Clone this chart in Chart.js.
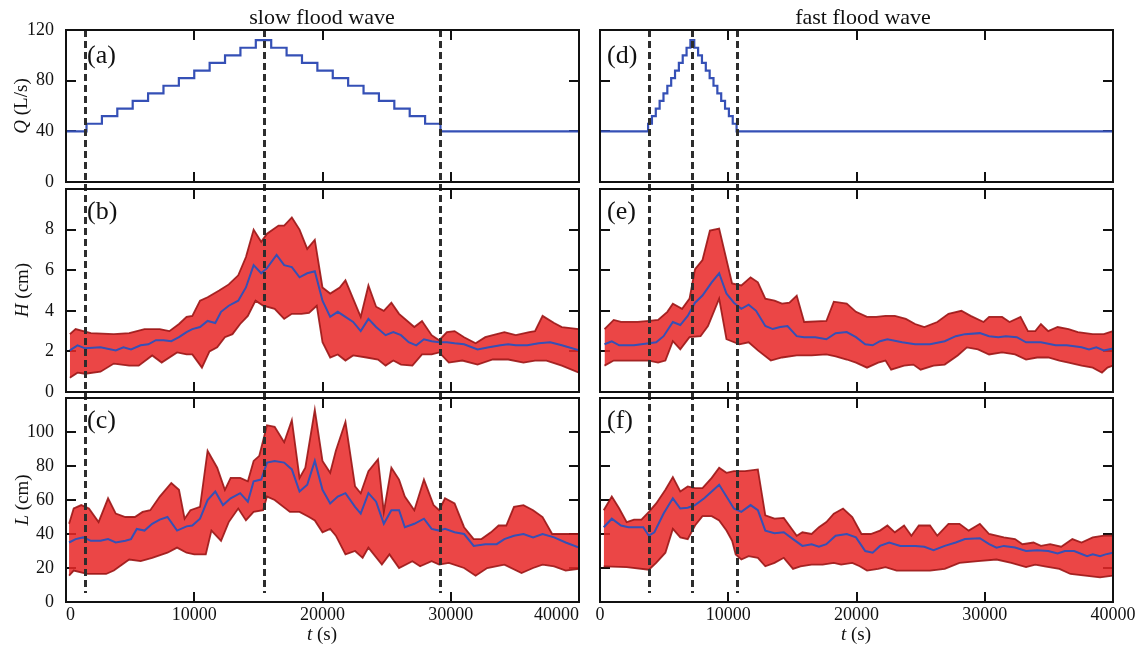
<!DOCTYPE html>
<html>
<head>
<meta charset="utf-8">
<title>Flood wave response</title>
<script src="https://cdn.jsdelivr.net/npm/chart.js@4.4.1/dist/chart.umd.min.js"></script>
<style>
  html, body { margin: 0; padding: 0; background: #fff; }
  #figure { position: relative; width: 1140px; height: 646px; overflow: hidden; background: #fff;
            font-family: "Liberation Serif", "Times New Roman", serif; color: #111; }
  #figure canvas { position: absolute; left: 0; top: 0; }
  .lbl { position: absolute; white-space: nowrap; line-height: 1; transform: translate(-50%, -50%); }
  .col-title { font-size: 22px; }
  .tag { font-size: 26px; transform: translate(0, -50%); }
  .ax { font-size: 19px; }
  .ax.rot { transform: translate(-50%, -50%) rotate(-90deg); }
</style>
</head>
<body>
<div id="figure">
  <canvas id="panelA" width="1140" height="646"></canvas>
  <canvas id="panelB" width="1140" height="646"></canvas>
  <canvas id="panelC" width="1140" height="646"></canvas>
  <canvas id="panelD" width="1140" height="646"></canvas>
  <canvas id="panelE" width="1140" height="646"></canvas>
  <canvas id="panelF" width="1140" height="646"></canvas>

  <div class="lbl col-title" style="left:322px;top:17px">slow flood wave</div>
  <div class="lbl col-title" style="left:863px;top:17px">fast flood wave</div>

  <div class="lbl ax rot" style="left:20px;top:106px"><i>Q</i> (L/s)</div>
  <div class="lbl ax rot" style="left:21px;top:290px"><i>H</i> (cm)</div>
  <div class="lbl ax rot" style="left:21px;top:500px"><i>L</i> (cm)</div>
  <div class="lbl ax" style="left:322px;top:633px"><i>t</i> (s)</div>
  <div class="lbl ax" style="left:856px;top:633px"><i>t</i> (s)</div>

  <div class="lbl tag" style="left:87px;top:55px">(a)</div>
  <div class="lbl tag" style="left:87px;top:211px">(b)</div>
  <div class="lbl tag" style="left:87px;top:420px">(c)</div>
  <div class="lbl tag" style="left:607px;top:55px">(d)</div>
  <div class="lbl tag" style="left:607px;top:211px">(e)</div>
  <div class="lbl tag" style="left:607px;top:420px">(f)</div>
</div>

<script>
// ---- axes ----
const T_MAX = 40000;
const X_TICKS = [0, 10000, 20000, 30000, 40000];
const Q_TICKS = [0, 40, 80, 120];
const H_TICKS = [0, 2, 4, 6, 8];
const L_TICKS = [0, 20, 40, 60, 80, 100];

// times (s) of the start, peak and end of each imposed flood wave
const SLOW_MARKS = [1500, 15400, 29200];
const FAST_MARKS = [3800, 7150, 10700];

// ---- imposed discharge Q (L/s), stepwise hydrographs ----
const qSlowTime = [0, 1600, 2800, 4000, 5200, 6400, 7600, 8800, 10000, 11200, 12400, 13600, 14800,
                   16000, 17200, 18400, 19600, 20800, 22000, 23200, 24400, 25600, 26800, 28000, 29200, 40000];
const qSlow     = [40, 46, 52, 58, 64, 70, 76, 82, 88, 94, 100, 106, 112,
                   106, 100, 94, 88, 82, 76, 70, 64, 58, 52, 46, 40, 40];
const qFastTime = [0, 3750, 4050, 4350, 4650, 4950, 5250, 5550, 5850, 6150, 6450, 6750, 7050,
                   7350, 7650, 7950, 8250, 8550, 8850, 9150, 9450, 9750, 10050, 10350, 10650, 40000];
const qFast     = [40, 46, 52, 58, 64, 70, 76, 82, 88, 94, 100, 106, 112,
                   106, 100, 94, 88, 82, 76, 70, 64, 58, 52, 46, 40, 40];

// ---- bedform height H (cm): [t, value] ----
const hSlowMean = [[300,2.05],[900,2.3],[1490,2.15],[2690,2.2],[3880,2.05],[4480,2.2],[5070,2.1],[5820,2.3],[6420,2.35],[7010,2.55],[7610,2.55],[8210,2.5],[8810,2.7],[9400,2.95],[9850,3.1],[10450,3.2],[11040,3.5],[11640,3.4],[12090,3.95],[12690,4.25],[13430,4.5],[14030,5.15],[14630,6.25],[15220,5.85],[15670,6.1],[16420,6.75],[17010,6.25],[17610,6.15],[18210,5.65],[18810,5.85],[19400,5.95],[20000,4.5],[20600,3.7],[21190,3.95],[21790,3.7],[22390,3.45],[22980,3.0],[23580,3.6],[24180,3.2],[24920,2.8],[25520,2.95],[26120,2.8],[26720,2.45],[27310,2.3],[27910,2.6],[28510,2.5],[29100,2.45],[29700,2.45],[30300,2.4],[31040,2.35],[32090,2.1],[32980,2.2],[33880,2.3],[34480,2.35],[35070,2.3],[35970,2.3],[36860,2.4],[37760,2.45],[38660,2.3],[40000,2.05]];
const hSlowUpper = [[300,2.85],[750,3.1],[1940,2.9],[3730,2.85],[4930,2.9],[6120,3.1],[7310,3.1],[8060,3.0],[8810,3.35],[9400,3.7],[9850,3.75],[10450,4.5],[11040,4.67],[11940,5.0],[12690,5.3],[13430,5.75],[14030,6.65],[14630,8.0],[15220,7.4],[15670,7.8],[16570,8.2],[17010,8.2],[17610,8.6],[18210,8.0],[18810,7.05],[19400,7.5],[20000,5.15],[20600,4.85],[21340,5.15],[21790,5.5],[22980,3.7],[23580,5.25],[24180,4.2],[24780,4.0],[25370,4.4],[25970,3.85],[27160,3.2],[27760,3.5],[28510,2.8],[29100,2.55],[29700,2.95],[30300,3.0],[31040,2.7],[31940,2.4],[32690,2.7],[33280,2.8],[34180,2.95],[35070,2.8],[36120,2.95],[36570,3.0],[37160,3.75],[38060,3.4],[38660,3.2],[40000,3.1]];
const hSlowLower = [[300,0.7],[900,0.95],[1490,0.9],[2690,1.0],[3730,1.4],[4930,1.3],[5670,1.3],[6720,1.8],[7460,1.45],[8660,1.95],[9400,1.85],[9850,1.85],[10600,1.2],[11190,2.0],[11790,2.2],[12390,2.7],[12980,2.85],[13580,3.35],[14180,3.75],[14780,4.5],[15370,4.25],[16270,4.1],[17010,3.6],[17610,3.85],[18360,3.85],[18950,3.9],[19550,4.25],[20000,2.45],[20600,1.7],[21190,1.85],[21790,1.55],[22390,1.8],[23430,1.7],[24330,1.6],[24920,1.3],[25520,1.55],[26120,1.35],[27010,1.3],[27760,1.85],[28510,1.85],[29100,1.95],[29850,1.45],[30900,1.55],[32090,1.35],[33280,1.6],[34480,1.6],[35670,1.45],[36570,1.55],[37460,1.55],[38660,1.3],[40000,0.95]];

const hFastMean = [[350,2.35],[920,2.5],[1500,2.3],[2650,2.3],[3810,2.4],[4380,2.45],[4960,2.75],[5680,3.45],[6260,3.3],[6840,3.75],[7410,4.4],[7990,4.75],[8710,5.4],[9290,5.85],[9860,4.85],[10440,4.4],[11020,4.1],[11590,4.3],[12170,4.0],[12890,3.25],[13470,3.1],[14050,3.2],[14620,3.25],[15340,2.75],[15920,2.7],[16790,2.7],[17650,2.6],[18370,2.9],[19240,2.95],[19960,2.7],[20680,2.35],[21260,2.3],[21830,2.5],[22410,2.6],[23560,2.45],[24570,2.35],[25730,2.35],[26880,2.5],[27740,2.75],[28460,2.85],[29620,2.9],[30340,2.75],[31060,2.7],[31640,2.75],[32500,2.7],[33220,2.45],[34380,2.45],[35530,2.3],[36400,2.3],[37550,2.2],[38130,2.1],[38700,2.2],[39280,2.05],[40000,2.15]];
const hFastUpper = [[350,3.1],[1070,3.55],[1640,3.45],[2940,3.45],[3810,3.5],[4530,3.55],[5250,3.95],[5680,4.35],[6400,4.1],[6980,4.6],[7410,6.05],[7990,6.5],[8570,7.95],[9290,8.05],[9720,6.9],[10300,5.35],[11020,5.25],[11740,5.65],[12310,5.4],[12890,4.6],[13610,4.5],[14190,4.35],[14770,4.4],[15340,4.75],[15920,3.45],[17650,3.5],[18230,4.45],[19240,4.35],[19960,3.95],[20820,3.7],[21540,3.7],[22260,3.75],[22990,3.75],[23850,3.6],[24570,3.35],[25290,3.2],[26300,3.45],[27170,3.85],[28180,4.0],[28900,3.75],[29910,3.45],[30340,3.7],[31350,3.7],[31930,3.45],[32790,3.7],[33370,3.0],[33940,3.0],[34380,3.35],[34950,3.0],[35680,3.2],[36540,3.1],[37260,2.95],[38420,2.85],[39280,2.85],[40000,3.0]];
const hFastLower = [[350,1.3],[1070,1.55],[2650,1.55],[3810,1.55],[4530,1.45],[5100,1.55],[5680,2.5],[6260,2.1],[6980,2.7],[7840,2.75],[8420,3.25],[9290,4.6],[9860,2.6],[10870,2.35],[11590,2.45],[12310,2.05],[13320,1.55],[14190,1.7],[15340,1.8],[16500,1.8],[17650,1.85],[18370,1.75],[19240,1.6],[19960,1.45],[20820,1.2],[21690,1.45],[22260,1.55],[22700,1.1],[23710,1.3],[24430,1.35],[25000,1.1],[26010,1.3],[26880,1.35],[27890,1.8],[28610,2.2],[29470,2.1],[30340,1.85],[31350,1.95],[32360,1.85],[33220,1.6],[34090,1.7],[34950,1.7],[35820,1.55],[36540,1.45],[37550,1.3],[38420,1.2],[39140,0.95],[39570,1.2],[40000,1.3]];

// ---- bedform length L (cm): [t, value] ----
const lSlowMean = [[240,35],[750,37],[1340,38],[1940,36],[2690,36],[3280,37],[3880,35],[4630,36],[5070,37],[5520,43],[6120,42],[6720,46],[7310,48.5],[7910,50],[8660,42],[9400,44.5],[9850,45],[10450,49],[11040,60],[11640,65],[12240,57],[12840,61],[13580,64],[14180,59],[14630,71],[15220,72],[15670,82],[16270,83],[17010,82],[17610,78],[18210,65],[18810,69],[19400,83],[20000,66],[20600,58],[21190,62],[21790,64],[22540,56],[22980,52],[23580,64],[24180,59],[24780,46],[25370,54],[25970,54],[26420,44],[27160,46],[27910,49],[28510,43],[29100,42],[29550,43],[30300,41],[31040,40],[31790,33],[32690,34],[33580,34],[34180,37],[34930,39],[35670,40],[36420,38],[37160,40],[38060,38],[38960,35],[40000,32]];
const lSlowUpper = [[240,46],[600,55],[1190,57],[1790,55],[2540,47],[3280,61],[3880,52],[4630,50],[5370,50],[5970,53],[6570,54],[7310,62],[8210,70],[8810,66],[9250,49],[9700,54],[10450,56],[11040,89],[11790,79],[12390,66],[12840,73],[13580,73],[14180,71],[14630,83],[15070,86],[15670,104],[16270,103],[17010,94],[17610,107],[18210,73],[18660,79],[19400,113],[20000,83],[20600,76],[21040,89],[21790,106],[22540,68],[22980,64],[23580,77],[24330,84],[24780,53],[25370,79],[25970,72],[26420,62],[27160,54],[27910,72],[28660,57],[29100,54],[29550,61],[30300,58],[31040,44],[31790,37],[32390,37],[33130,41],[33730,45],[34330,45],[34930,56],[35670,57],[36420,54],[37160,50],[37910,40],[38810,40],[40000,40]];
const lSlowLower = [[240,15.5],[600,18.5],[1640,16.5],[3130,16.5],[3730,18.5],[4930,25],[5820,24],[6720,26],[7910,29],[8660,32],[9400,29],[10000,28],[10900,28],[11340,42],[12090,36],[12690,47],[13430,55],[14030,48],[14630,53],[15370,54],[15670,62],[16270,60],[17460,53],[18210,53],[18950,50],[19400,48],[20000,41],[20600,43],[21040,39],[21790,28],[22540,30],[23130,26],[23580,32],[24630,22],[25220,28],[25970,20],[27010,24],[27610,21],[28510,24],[29100,22],[29850,23],[31040,20],[31940,15.5],[32840,20],[34180,22],[35520,17],[36420,20],[37160,22],[38060,21],[38960,18.5],[40000,19.5]];

const lFastMean = [[290,44],[920,49],[1640,45],[2220,44],[3370,44],[3810,39],[4240,41],[4960,52],[5680,61],[6260,55],[6840,55.5],[7410,57],[8130,61],[8710,65],[9290,69],[9860,62],[10440,55],[11020,53],[11740,57],[12310,54],[12890,42],[13610,40.5],[14330,41],[15050,37],[15780,33],[16500,34],[17070,32.5],[17650,34],[18370,39],[19240,40],[19960,38],[20680,30],[21260,29],[21830,33],[22550,35],[23420,33],[24570,33],[25290,32.5],[26010,30.5],[26880,33],[27740,35],[28460,37],[29620,37.5],[30340,34],[30920,32],[31490,33],[32360,32],[33220,30],[34090,30.5],[34950,30],[35680,28.5],[36250,30],[36970,30],[37980,27],[38420,28],[38990,27],[39420,28],[40000,29]];
const lFastUpper = [[290,54],[920,62],[1500,55],[2080,47],[2650,48.5],[3230,48.5],[3810,53],[4380,58],[5100,66],[5680,73.5],[6260,65],[6840,68],[7410,67],[7990,67],[8710,73],[9290,79],[9860,76],[10440,77],[11310,77],[12310,78],[12890,51],[13610,49],[14330,49.5],[15340,39],[15780,41],[16500,40],[17070,44],[17650,47],[18230,52],[18950,55],[19670,50],[20390,40],[21110,40],[21830,42],[22410,45],[22990,41],[23710,45],[24280,39],[24860,45],[25730,45],[26300,39],[27170,46],[28030,46],[28750,42],[29620,46],[30340,40],[31490,38],[32360,37],[32940,34],[33800,35],[34380,33],[35100,34],[35960,32.5],[36830,37],[37550,35],[38420,38],[39280,39],[40000,39]];
const lFastLower = [[290,21],[2080,20.5],[3810,19],[4380,23],[5100,29],[5680,43],[6260,38],[6840,37],[7410,45],[7990,50.5],[8710,50.5],[9290,48],[9860,42],[10300,36],[10580,28],[11020,25],[11590,27],[12310,26],[12890,21],[13610,23],[14330,26],[15050,19.5],[15630,21],[16500,22],[17360,22],[18230,23],[18800,22],[19670,23],[20250,21],[20820,18.5],[21690,19.5],[22260,20.5],[23130,18.5],[24280,18.5],[25730,18.5],[26880,19.5],[28030,23],[29470,24],[30920,25],[32070,23],[33220,20.5],[33940,22],[34670,21],[35820,19.5],[36680,16.5],[37840,15.5],[38990,14.5],[40000,15.5]];

// ---- styling ----
const INK = '#111';
const BLUE = '#3550b6';
const BAND_FILL = 'rgba(232, 40, 40, 0.86)';
const BAND_EDGE = 'rgba(155, 22, 22, 0.9)';
const SERIF = '"Liberation Serif", "Times New Roman", serif';
const tickFont = { family: SERIF, size: 18 };

const pairsToXY = pairs => pairs.map(([x, y]) => ({ x, y }));
const zipXY = (xs, ys) => xs.map((x, i) => ({ x, y: ys[i] }));

// Inward tick marks, boxed frame and dashed event markers for each panel
const framePlugin = {
  id: 'frame',
  beforeDraw(chart, _args, o) {
    const { ctx, chartArea: a, scales: { x, y } } = chart;
    ctx.save();
    ctx.strokeStyle = INK;
    ctx.lineWidth = 2;
    ctx.beginPath();
    for (const v of o.xTicks) {
      if (v <= x.min || v >= x.max) continue;
      const px = Math.round(x.getPixelForValue(v));
      ctx.moveTo(px, a.top); ctx.lineTo(px, a.top + 10);
      ctx.moveTo(px, a.bottom); ctx.lineTo(px, a.bottom - 10);
    }
    for (const v of o.yTicks) {
      if (v <= y.min || v >= y.max) continue;
      const py = Math.round(y.getPixelForValue(v));
      ctx.moveTo(a.left, py); ctx.lineTo(a.left + 10, py);
      ctx.moveTo(a.right, py); ctx.lineTo(a.right - 10, py);
    }
    ctx.stroke();
    ctx.restore();
  },
  afterDatasetsDraw(chart, _args, o) {
    const { ctx, scales: { x } } = chart;
    ctx.save();
    ctx.strokeStyle = '#2d2d2d';
    ctx.lineWidth = 3;
    ctx.setLineDash([7, 4]);
    ctx.lineDashOffset = o.dashFrom - 30;   // keeps the dash rhythm continuous between panels
    for (const m of o.marks) {
      const px = Math.round(x.getPixelForValue(m)) + 0.5;
      ctx.beginPath();
      ctx.moveTo(px, o.dashFrom);
      ctx.lineTo(px, o.dashTo);
      ctx.stroke();
    }
    ctx.restore();
  },
  afterDraw(chart) {
    const { ctx, chartArea: a } = chart;
    ctx.save();
    ctx.strokeStyle = INK;
    ctx.lineWidth = 2;
    ctx.strokeRect(a.left, a.top, a.right - a.left, a.bottom - a.top);
    ctx.restore();
  }
};

function bandDatasets(mean, upper, lower) {
  return [
    { data: pairsToXY(mean), borderColor: BLUE, borderWidth: 2, fill: false },
    { data: pairsToXY(upper), borderColor: BAND_EDGE, borderWidth: 1.8, backgroundColor: BAND_FILL, fill: '+1' },
    { data: pairsToXY(lower), borderColor: BAND_EDGE, borderWidth: 1.8, fill: false }
  ];
}

function stepDataset(ts, qs) {
  return [{ data: zipXY(ts, qs), borderColor: BLUE, borderWidth: 2.2, stepped: 'before', fill: false }];
}

function panel(id, p) {
  const yW = p.yLabels ? 50 : 0;
  const xH = p.xLabels ? 34 : 0;
  return new Chart(document.getElementById(id), {
    type: 'line',
    data: { datasets: p.datasets },
    plugins: [framePlugin],
    options: {
      responsive: false,
      animation: false,
      events: [],
      layout: { padding: { left: p.left - yW, right: 1140 - p.right, top: p.top, bottom: 646 - p.bottom - xH } },
      elements: { point: { radius: 0 }, line: { tension: 0 } },
      plugins: {
        legend: { display: false },
        tooltip: { enabled: false },
        filler: { drawTime: 'beforeDatasetsDraw' },
        frame: { xTicks: X_TICKS, yTicks: p.yTicks, marks: p.marks, dashFrom: p.dashFrom, dashTo: p.dashTo }
      },
      scales: {
        x: {
          type: 'linear', min: 0, max: T_MAX, display: p.xLabels,
          grid: { display: false, drawTicks: false }, border: { display: false },
          afterBuildTicks: s => { s.ticks = X_TICKS.map(v => ({ value: v })); },
          afterFit: s => { s.height = xH; s.paddingLeft = 0; s.paddingRight = 0; },
          ticks: { font: tickFont, color: INK, padding: 2, maxRotation: 0, autoSkip: false,
                   align: p.xAlign || 'center', callback: v => String(v) }
        },
        y: {
          type: 'linear', min: p.yMin, max: p.yMax, display: p.yLabels,
          grid: { display: false, drawTicks: false }, border: { display: false },
          afterBuildTicks: s => { s.ticks = p.yTicks.map(v => ({ value: v })); },
          afterFit: s => { s.width = yW; s.paddingTop = 0; s.paddingBottom = 0; },
          ticks: { font: tickFont, color: INK, padding: 12, autoSkip: false, callback: v => String(v) }
        }
      }
    }
  });
}

// panel boxes (page pixels)
const LEFT_COL = { left: 66, right: 579 };
const RIGHT_COL = { left: 600, right: 1113 };
const ROW_Q = { top: 30, bottom: 182 };
const ROW_H = { top: 189, bottom: 392 };
const ROW_L = { top: 398, bottom: 602 };

// slow flood wave
panel('panelA', { ...LEFT_COL, ...ROW_Q, yLabels: true, xLabels: false, yMin: 0, yMax: 120, yTicks: Q_TICKS,
  datasets: stepDataset(qSlowTime, qSlow), marks: SLOW_MARKS, dashFrom: 30, dashTo: 189 });
panel('panelB', { ...LEFT_COL, ...ROW_H, yLabels: true, xLabels: false, yMin: 0, yMax: 10, yTicks: H_TICKS,
  datasets: bandDatasets(hSlowMean, hSlowUpper, hSlowLower), marks: SLOW_MARKS, dashFrom: 189, dashTo: 398 });
panel('panelC', { ...LEFT_COL, ...ROW_L, yLabels: true, xLabels: true, xAlign: 'inner', yMin: 0, yMax: 120, yTicks: L_TICKS,
  datasets: bandDatasets(lSlowMean, lSlowUpper, lSlowLower), marks: SLOW_MARKS, dashFrom: 398, dashTo: 593 });

// fast flood wave
panel('panelD', { ...RIGHT_COL, ...ROW_Q, yLabels: false, xLabels: false, yMin: 0, yMax: 120, yTicks: Q_TICKS,
  datasets: stepDataset(qFastTime, qFast), marks: FAST_MARKS, dashFrom: 30, dashTo: 189 });
panel('panelE', { ...RIGHT_COL, ...ROW_H, yLabels: false, xLabels: false, yMin: 0, yMax: 10, yTicks: H_TICKS,
  datasets: bandDatasets(hFastMean, hFastUpper, hFastLower), marks: FAST_MARKS, dashFrom: 189, dashTo: 398 });
panel('panelF', { ...RIGHT_COL, ...ROW_L, yLabels: false, xLabels: true, yMin: 0, yMax: 120, yTicks: L_TICKS,
  datasets: bandDatasets(lFastMean, lFastUpper, lFastLower), marks: FAST_MARKS, dashFrom: 398, dashTo: 593 });
</script>
</body>
</html>
